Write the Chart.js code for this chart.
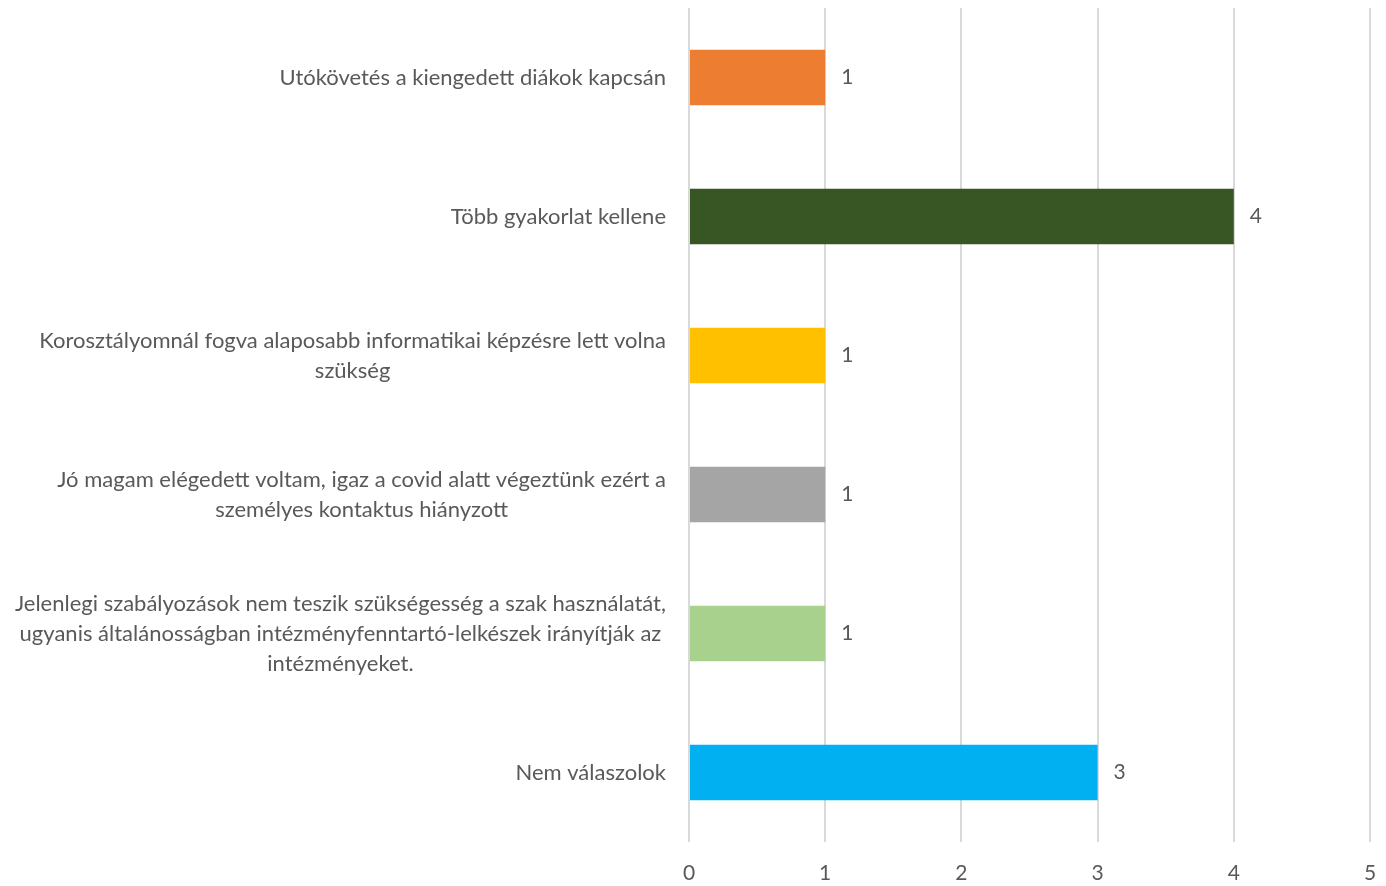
<!DOCTYPE html>
<html>
<head>
<meta charset="utf-8">
<script src="https://cdn.jsdelivr.net/npm/chart.js@4/dist/chart.umd.min.js"></script>
<style>
  html, body { margin: 0; padding: 0; background: #fff; overflow: hidden; }
  canvas { display: block; }
</style>
</head>
<body>
<canvas id="mainChart" width="1386" height="886"></canvas>
<script>
// categories, top to bottom (each entry = wrapped lines)
var categories = [
  ['Utókövetés a kiengedett diákok kapcsán'],
  ['Több gyakorlat kellene'],
  ['Korosztályomnál fogva alaposabb informatikai képzésre lett volna', 'szükség'],
  ['Jó magam elégedett voltam, igaz a covid alatt végeztünk ezért a', 'személyes kontaktus hiányzott'],
  ['Jelenlegi szabályozások nem teszik szükségesség a szak használatát,', 'ugyanis általánosságban intézményfenntartó-lelkészek irányítják az', 'intézményeket.'],
  ['Nem válaszolok']
];
var values = [1, 4, 1, 1, 1, 3];
var barColors = ['#ED7D31', '#375623', '#FFC000', '#A5A5A5', '#A9D18E', '#00B0F0'];
var xTicks = [0, 1, 2, 3, 4, 5];

var FONT = "Lato, 'Open Sans', sans-serif";
var TEXT = '#595959';

// Category labels: block right-aligned to the axis, lines centred in the block
var categoryLabels = {
  id: 'categoryLabels',
  afterDraw: function(chart) {
    var ctx = chart.ctx;
    var y = chart.scales.y;
    var right = chart.chartArea.left - 23;
    var lh = 30;
    ctx.save();
    ctx.font = '22px ' + FONT;
    ctx.fillStyle = TEXT;
    ctx.textAlign = 'center';
    ctx.textBaseline = 'middle';
    categories.forEach(function(lines, i) {
      var w = 0;
      lines.forEach(function(l) { w = Math.max(w, ctx.measureText(l).width); });
      var cx = right - w / 2;
      var cy = y.getPixelForValue(i);
      var y0 = cy - (lines.length - 1) * lh / 2;
      lines.forEach(function(l, k) { ctx.fillText(l, cx, y0 + k * lh); });
    });
    ctx.restore();
  }
};

// Value labels at the bar ends
var valueLabels = {
  id: 'valueLabels',
  afterDatasetsDraw: function(chart) {
    var ctx = chart.ctx;
    var meta = chart.getDatasetMeta(0);
    ctx.save();
    ctx.font = '21px ' + FONT;
    ctx.fillStyle = TEXT;
    ctx.textAlign = 'left';
    ctx.textBaseline = 'middle';
    meta.data.forEach(function(bar, i) {
      ctx.fillText(String(values[i]), bar.x + 16, bar.y);
    });
    ctx.restore();
  }
};

new Chart(document.getElementById('mainChart').getContext('2d'), {
  type: 'bar',
  data: {
    labels: categories.map(function(c) { return c.join(' '); }),
    datasets: [{
      data: values,
      backgroundColor: barColors,
      borderWidth: 0,
      categoryPercentage: 1,
      barPercentage: 0.4
    }]
  },
  options: {
    indexAxis: 'y',
    responsive: false,
    animation: false,
    layout: { padding: { left: 689, right: 16, top: 8, bottom: 1 } },
    plugins: { legend: { display: false }, tooltip: { enabled: false } },
    scales: {
      x: {
        min: 0, max: 5,
        afterBuildTicks: function(s) { s.ticks = xTicks.map(function(v) { return { value: v }; }); },
        afterFit: function(s) { s.height = 43; s.paddingRight = 0; },
        grid: { color: '#D9D9D9', lineWidth: 2, drawTicks: false },
        border: { display: false },
        ticks: { color: TEXT, font: { family: FONT, size: 21 }, padding: 19 }
      },
      y: {
        afterFit: function(s) { s.width = 0; },
        grid: { display: false },
        border: { display: false },
        ticks: { display: false }
      }
    }
  },
  plugins: [categoryLabels, valueLabels]
});
</script>
</body>
</html>
